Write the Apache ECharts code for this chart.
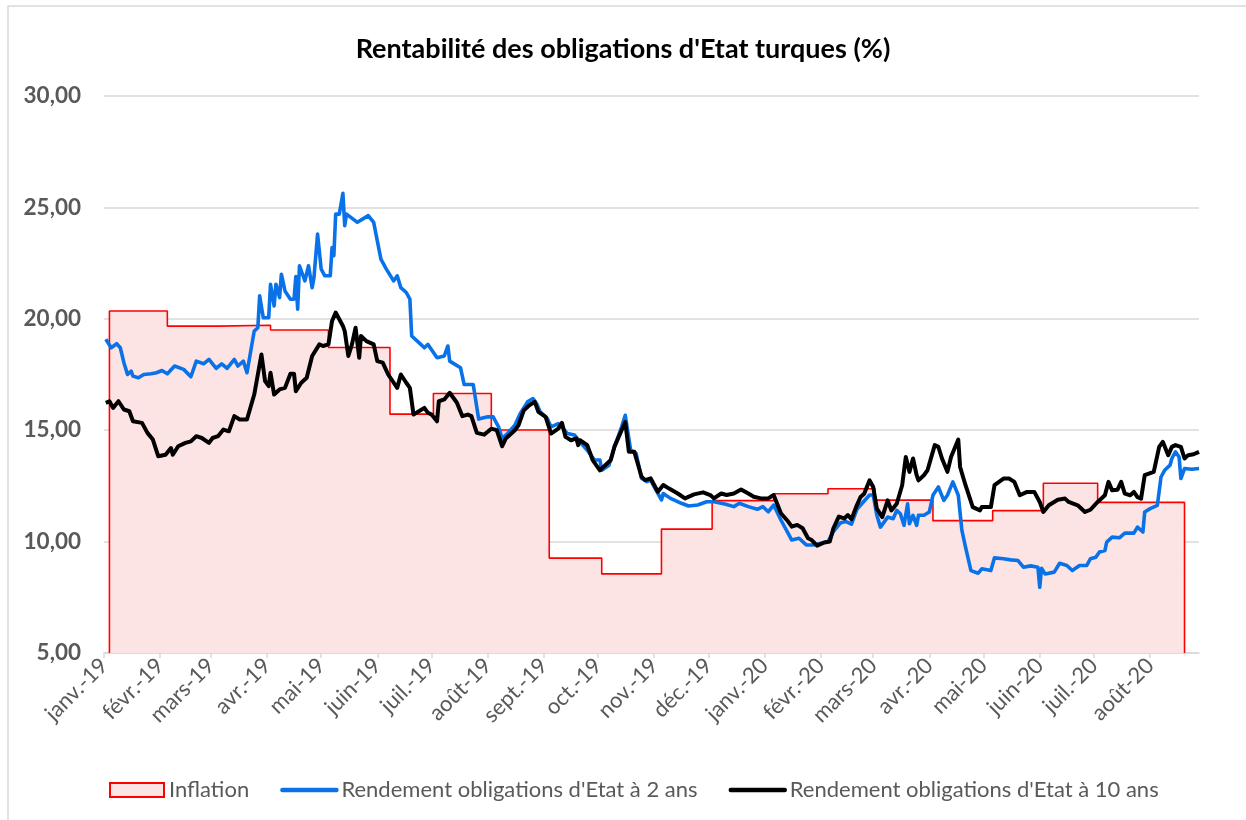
<!DOCTYPE html>
<html>
<head>
<meta charset="utf-8">
<script src="https://cdn.jsdelivr.net/npm/echarts@6/dist/echarts.min.js"></script>
<style>
  html, body { margin: 0; padding: 0; background: #fff; }
  #chart { width: 1246px; height: 820px; }
</style>
</head>
<body>
<div id="chart"></div>
<script>
// dates are stored as days since 1 Jan 2019
const monthLabels = ['janv.', 'févr.', 'mars', 'avr.', 'mai', 'juin', 'juil.', 'août', 'sept.', 'oct.', 'nov.', 'déc.'];
const yTicks = [5, 10, 15, 20, 25, 30];

// inflation (monthly, step)
const inflationDays = [3, 35, 63, 92, 124, 158, 182, 214, 246, 275, 308, 336, 370, 400, 426, 458, 491, 519, 549];
const inflationRates = [20.35, 19.67, 19.71, 19.50, 18.71, 15.72, 16.65, 15.01, 9.26, 8.55, 10.56, 11.84, 12.15, 12.37, 11.86, 10.94, 11.39, 12.62, 11.76];
const inflationEndDay = 597;

// 2-year yield
const days2y = [
  1, 4, 7, 9, 11, 13, 15, 16, 19, 22,
  26, 29, 32, 35, 39, 44, 48, 51, 55, 58,
  62, 65, 68, 72, 74, 77, 79, 83, 85, 86,
  88, 91, 92, 94, 95, 97, 98, 100, 103, 105,
  106, 107, 108, 111, 113, 115, 116, 118, 120, 122,
  125, 126, 127, 128, 130, 132, 133, 134, 140, 146,
  149, 153, 156, 160, 162, 164, 167, 169, 170, 174,
  177, 179, 184, 188, 190, 191, 197, 199, 204, 207,
  212, 215, 218, 220, 223, 227, 230, 234, 237, 239,
  241, 245, 247, 251, 253, 256, 260, 263, 267, 271,
  274, 275, 279, 282, 286, 288, 291, 294, 297, 300,
  302, 305, 308, 309, 313, 319, 323, 328, 333, 337,
  343, 348, 351, 356, 361, 364, 367, 370, 374, 378,
  380, 384, 388, 392, 396, 400, 403, 407, 410, 413,
  416, 420, 423, 425, 427, 429, 433, 436, 438, 440,
  442, 444, 445, 447, 449, 450, 453, 456, 458, 461,
  464, 466, 469, 472, 474, 476, 479, 483, 485, 490,
  492, 497, 501, 505, 508, 512, 516, 517, 518, 520,
  525, 528, 532, 535, 539, 543, 545, 548, 550, 553,
  554, 557, 561, 564, 569, 571, 574, 575, 578, 582,
  584, 586, 589, 590, 592, 594, 595, 597, 601, 605
];
const yield2y = [
  19.08, 18.7, 18.88, 18.7, 18.03, 17.5, 17.65, 17.43, 17.35, 17.5,
  17.53, 17.58, 17.68, 17.53, 17.88, 17.73, 17.4, 18.1, 17.98, 18.18,
  17.78, 17.98, 17.78, 18.18, 17.88, 18.1, 17.58, 19.45, 19.6, 21.03,
  20.05, 20.05, 21.55, 20.58, 21.55, 20.95, 22.0, 21.25, 20.88, 20.88,
  21.9, 20.43, 22.38, 21.7, 22.38, 21.4, 21.85, 23.8, 22.23, 21.93,
  21.93, 23.2, 22.83, 24.7, 24.7, 25.63, 24.18, 24.7, 24.33, 24.63,
  24.33, 22.68, 22.23, 21.7, 21.93, 21.4, 21.18, 20.88, 19.23, 18.93,
  18.7, 18.85, 18.25, 18.33, 18.78, 18.1, 17.8, 17.05, 17.05, 15.5,
  15.6, 15.6, 15.15, 14.63, 14.85, 15.22, 15.75, 16.27, 16.42, 16.2,
  15.82, 15.52, 15.15, 15.3, 15.15, 14.85, 14.78, 14.48, 14.1, 13.66,
  13.66, 13.2, 13.43, 14.25, 15.15, 15.67, 14.1, 13.96, 12.84, 12.69,
  12.76, 12.31, 11.87, 12.16, 11.94, 11.72, 11.6, 11.64, 11.79, 11.79,
  11.69, 11.57, 11.72, 11.57, 11.45, 11.57, 11.34, 11.64, 10.97, 10.37,
  10.07, 10.15, 9.85, 9.85, 9.93, 10.0, 10.45, 10.85, 10.9, 10.78,
  11.45, 11.82, 12.09, 12.09, 11.18, 10.65, 11.1, 11.03, 11.4, 11.25,
  10.73, 11.7, 10.8, 11.18, 10.73, 11.18, 11.18, 11.33, 12.08, 12.45,
  11.85, 12.08, 12.68, 12.08, 10.5, 9.75, 8.7, 8.58, 8.78, 8.7,
  9.27, 9.23, 9.18, 9.15, 8.85, 8.91, 8.85, 7.95, 8.8, 8.55,
  8.63, 9.03, 8.93, 8.7, 8.93, 8.93, 9.23, 9.3, 9.53, 9.6,
  9.98, 10.2, 10.17, 10.38, 10.38, 10.65, 10.43, 11.33, 11.48, 11.63,
  12.9, 13.2, 13.43, 13.73, 14.03, 13.8, 12.83, 13.28, 13.25, 13.28
];

// 10-year yield
const days10y = [
  1, 3, 5, 8, 11, 14, 16, 21, 24, 27,
  30, 34, 37, 38, 41, 45, 48, 51, 54, 58,
  60, 63, 66, 69, 72, 75, 79, 83, 85, 87,
  89, 91, 92, 94, 97, 100, 103, 105, 106, 109,
  112, 115, 119, 121, 124, 126, 128, 132, 133, 135,
  137, 139, 141, 142, 145, 149, 151, 154, 157, 162,
  164, 167, 169, 171, 174, 177, 179, 181, 184, 185,
  188, 191, 195, 198, 201, 203, 206, 210, 212, 214,
  217, 220, 222, 227, 229, 232, 235, 238, 240, 244,
  247, 251, 253, 255, 258, 261, 262, 263, 267, 270,
  274, 277, 280, 282, 286, 288, 290, 293, 297, 299,
  302, 306, 309, 312, 317, 321, 326, 331, 335, 337,
  341, 344, 348, 352, 356, 359, 363, 367, 370, 374,
  378, 380, 383, 386, 389, 391, 394, 398, 401, 403,
  406, 409, 411, 413, 416, 418, 420, 423, 425, 427,
  430, 433, 435, 438, 441, 443, 445, 447, 449, 450,
  453, 455, 459, 461, 463, 466, 468, 472, 473, 476,
  480, 484, 485, 490, 492, 497, 500, 503, 506, 510,
  514, 517, 519, 522, 527, 531, 533, 538, 542, 545,
  549, 553, 555, 557, 560, 562, 564, 567, 569, 571,
  573, 575, 580, 583, 585, 588, 590, 592, 595, 597,
  599, 602, 605
];
const yield10y = [
  16.23, 16.3, 16.0, 16.3, 15.93, 15.85, 15.4, 15.33, 14.88, 14.58,
  13.83, 13.9, 14.2, 13.9, 14.28, 14.43, 14.5, 14.73, 14.65, 14.43,
  14.65, 14.73, 15.03, 14.95, 15.63, 15.48, 15.48, 16.6, 17.5, 18.4,
  17.2, 16.98, 17.58, 16.6, 16.83, 16.9, 17.53, 17.53, 16.75, 17.13,
  17.35, 18.33, 18.85, 18.78, 18.85, 19.9, 20.28, 19.68, 19.45, 18.33,
  18.85, 19.6, 18.25, 19.23, 19.0, 18.85, 18.1, 18.03, 17.5, 16.9,
  17.5, 17.13, 16.9, 15.7, 15.85, 16.0, 15.78, 15.7, 15.4, 16.3,
  16.38, 16.68, 16.23, 15.63, 15.7, 15.63, 14.88, 14.8, 14.93, 15.07,
  15.0, 14.28, 14.63, 15.0, 15.22, 15.9, 16.12, 16.27, 15.82, 15.6,
  14.85, 15.07, 15.33, 14.7, 14.55, 14.63, 14.33, 14.55, 14.33, 13.66,
  13.2, 13.43, 13.66, 14.25, 15.0, 15.37, 14.03, 14.03, 12.91, 12.76,
  12.84, 12.24, 12.54, 12.39, 12.16, 11.94, 12.12, 12.21, 12.09, 11.94,
  12.16, 12.09, 12.16, 12.34, 12.16, 12.01, 11.94, 11.94, 12.09, 11.27,
  10.9, 10.67, 10.75, 10.6, 10.15, 10.07, 9.82, 9.96, 10.0, 10.6,
  11.12, 11.04, 11.19, 11.0, 11.64, 12.0, 12.15, 12.75, 12.45, 11.48,
  11.1, 11.85, 11.4, 11.7, 12.53, 13.8, 13.13, 13.73, 12.98, 12.75,
  12.98, 13.2, 14.33, 14.25, 13.73, 13.13, 13.8, 14.58, 13.35, 12.53,
  11.55, 11.4, 11.55, 11.55, 12.53, 12.83, 12.83, 12.68, 12.08, 12.23,
  12.23, 11.78, 11.33, 11.63, 11.88, 11.93, 11.78, 11.63, 11.33, 11.43,
  11.78, 12.08, 12.68, 12.3, 12.33, 12.68, 12.15, 12.08, 12.23, 12.0,
  11.93, 12.98, 13.13, 14.25, 14.48, 13.88, 14.25, 14.33, 14.25, 13.73,
  13.88, 13.92, 14.03
];

const lastDay = 605;
const BASE = Date.UTC(2019, 0, 1);
const DAY = 86400000;
const toTime = d => BASE + d * DAY;

const font = 'Lato';
const grey = '#595959';
const blue = '#0a72e8';

// inflation outline drawn as steps, closed down to the axis at both ends
const inflationData = [[toTime(inflationDays[0]), yTicks[0]]];
inflationDays.forEach((d, i) => inflationData.push([toTime(d), inflationRates[i]]));
inflationData.push([toTime(inflationEndDay), yTicks[0]]);

const chart = echarts.init(document.getElementById('chart'));
chart.setOption({
  useUTC: true,
  animation: false,
  backgroundColor: '#ffffff',
  title: {
    text: "Rentabilité des obligations d'Etat turques (%)",
    left: 'center',
    top: 31,
    textStyle: { fontFamily: font, fontWeight: 'bold', fontSize: 27, color: '#000' }
  },
  graphic: [{
    type: 'rect',
    shape: { x: 8, y: 6, width: 1270, height: 840 },
    style: { fill: 'none', stroke: '#d9d9d9', lineWidth: 1.5 },
    silent: true
  }],
  legend: {
    left: 104,
    top: 774,
    itemGap: 31,
    itemWidth: 54,
    itemHeight: 14,
    textStyle: { fontFamily: font, fontSize: 22, color: grey },
    data: [
      { name: 'Inflation', icon: 'rect', itemStyle: { color: '#fde4e4', borderColor: '#ff0000', borderWidth: 2 } },
      { name: "Rendement obligations d'Etat à 2 ans", itemStyle: { opacity: 0 }, lineStyle: { width: 4.5, cap: 'round' } },
      { name: "Rendement obligations d'Etat à 10 ans", itemStyle: { opacity: 0 }, lineStyle: { width: 4.5, cap: 'round' } }
    ]
  },
  grid: { left: 104, right: 47, top: 96, bottom: 167 },
  xAxis: {
    type: 'time',
    min: BASE,
    max: toTime(lastDay),
    splitNumber: 20,
    minInterval: 28 * DAY,
    maxInterval: 31 * DAY,
    axisLine: { lineStyle: { color: '#d9d9d9', width: 1.5 } },
    axisTick: { show: true, length: 5, lineStyle: { color: '#d9d9d9', width: 1.5 } },
    splitLine: { show: false },
    axisLabel: {
      rotate: 45,
      margin: 9,
      fontFamily: font,
      fontSize: 22,
      color: grey,
      hideOverlap: false,
      formatter: function (val) {
        const d = new Date(val);
        return monthLabels[d.getUTCMonth()] + '-' + String(d.getUTCFullYear()).slice(2);
      }
    }
  },
  yAxis: {
    type: 'value',
    min: yTicks[0],
    max: yTicks[yTicks.length - 1],
    interval: 5,
    axisLine: { show: false },
    axisTick: { show: false },
    splitLine: { lineStyle: { color: '#d9d9d9', width: 1.5 } },
    axisLabel: {
      margin: 23,
      fontFamily: font,
      fontSize: 22.5,
      fontWeight: 'bold',
      color: grey,
      formatter: v => v.toFixed(2).replace('.', ',')
    }
  },
  series: [
    {
      name: 'Inflation',
      type: 'line',
      step: 'end',
      symbol: 'none',
      data: inflationData,
      lineStyle: { color: '#ff0000', width: 1.6 },
      itemStyle: { color: '#fde4e4', borderColor: '#ff0000' },
      areaStyle: { color: '#fde4e4', opacity: 1, origin: 'start' },
      z: 1
    },
    {
      name: "Rendement obligations d'Etat à 2 ans",
      type: 'line',
      symbol: 'none',
      data: days2y.map((d, i) => [toTime(d), yield2y[i]]),
      lineStyle: { color: blue, width: 3.6, join: 'round' },
      itemStyle: { color: blue },
      z: 2
    },
    {
      name: "Rendement obligations d'Etat à 10 ans",
      type: 'line',
      symbol: 'none',
      data: days10y.map((d, i) => [toTime(d), yield10y[i]]),
      lineStyle: { color: '#000000', width: 4, join: 'round' },
      itemStyle: { color: '#000000' },
      z: 3
    }
  ]
});
</script>
</body>
</html>
